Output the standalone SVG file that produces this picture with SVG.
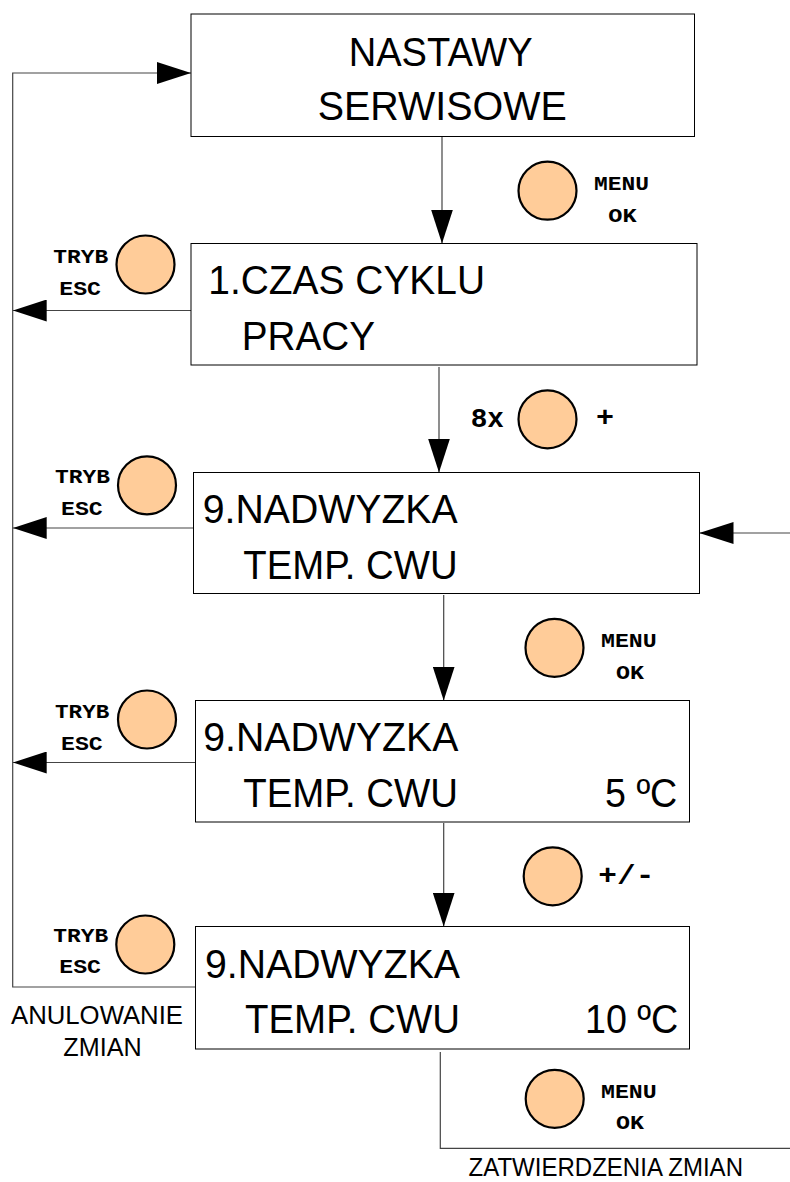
<svg xmlns="http://www.w3.org/2000/svg" width="790" height="1182" viewBox="0 0 790 1182">
<style>
.box{fill:#fff;stroke:#000;stroke-width:1}
.big{font-family:"Liberation Sans",Arial,sans-serif;font-size:40px;fill:#000}
.cap{font-family:"Liberation Sans",Arial,sans-serif;font-size:25px;fill:#000}
.btn{fill:#ffcc99;stroke:#000;stroke-width:2.2}
.key{font-family:"Liberation Mono","Courier New",monospace;font-weight:bold;font-size:21px;fill:#000}
.key2{font-family:"Liberation Mono","Courier New",monospace;font-weight:bold;font-size:27px;fill:#000}
.con{fill:none;stroke:#444;stroke-width:1.2}
</style>
<defs>
<marker id="ah" markerUnits="userSpaceOnUse" markerWidth="34" markerHeight="22" refX="34" refY="11" orient="auto">
<path d="M0,0 L34,11 L0,22 Z" fill="#000"/>
</marker>
</defs>
<rect width="790" height="1182" fill="#fff"/>
<g id="connectors">
<path class="con" d="M195,987 H12.7 V73 H191" marker-end="url(#ah)"/>
<path class="con" d="M191,310.5 H12.7" marker-end="url(#ah)"/>
<path class="con" d="M193.5,528 H12.7" marker-end="url(#ah)"/>
<path class="con" d="M195.5,762.5 H12.7" marker-end="url(#ah)"/>
<path class="con" d="M442,137 V243.5" marker-end="url(#ah)"/>
<path class="con" d="M439,367 V472.5" marker-end="url(#ah)"/>
<path class="con" d="M443.7,595 V700.5" marker-end="url(#ah)"/>
<path class="con" d="M443.7,823 V926.5" marker-end="url(#ah)"/>
<path class="con" d="M790,533 H699.5" marker-end="url(#ah)"/>
<path class="con" d="M440.3,1052 V1148.3 H790"/>
</g>
<g id="box1">
<rect class="box" x="191" y="14" width="503.5" height="122.5"/>
<text class="big" x="348.7" y="65.7" textLength="184" lengthAdjust="spacingAndGlyphs">NASTAWY</text>
<text class="big" x="317.7" y="120" textLength="249" lengthAdjust="spacingAndGlyphs">SERWISOWE</text>
</g>
<g id="box2">
<rect class="box" x="191" y="243.5" width="506" height="121.5"/>
<text class="big" x="208.3" y="294" textLength="276.7" lengthAdjust="spacingAndGlyphs">1.CZAS CYKLU</text>
<text class="big" x="241.7" y="350.3" textLength="133.3" lengthAdjust="spacingAndGlyphs">PRACY</text>
</g>
<g id="box3">
<rect class="box" x="193.5" y="472.5" width="506" height="121"/>
<text class="big" x="202.7" y="523" textLength="255" lengthAdjust="spacingAndGlyphs">9.NADWYZKA</text>
<text class="big" x="243.3" y="579.3" textLength="214.3" lengthAdjust="spacingAndGlyphs">TEMP. CWU</text>
</g>
<g id="box4">
<rect class="box" x="195.5" y="700.5" width="494" height="121.5"/>
<text class="big" x="203.3" y="750.7" textLength="255" lengthAdjust="spacingAndGlyphs">9.NADWYZKA</text>
<text class="big" x="243.3" y="807.3" textLength="214.7" lengthAdjust="spacingAndGlyphs">TEMP. CWU</text>
<text class="big" x="605" y="807.3" textLength="72.3" lengthAdjust="spacingAndGlyphs">5 ºC</text>
</g>
<g id="box5">
<rect class="box" x="195.5" y="926.5" width="494" height="122.5"/>
<text class="big" x="205" y="978.3" textLength="255" lengthAdjust="spacingAndGlyphs">9.NADWYZKA</text>
<text class="big" x="245" y="1033.3" textLength="215" lengthAdjust="spacingAndGlyphs">TEMP. CWU</text>
<text class="big" x="585" y="1033.3" textLength="93.3" lengthAdjust="spacingAndGlyphs">10 ºC</text>
</g>
<g id="btn-menu1">
<circle class="btn" cx="547.5" cy="190.7" r="29"/>
<text class="key" x="594" y="190" textLength="55" lengthAdjust="spacingAndGlyphs">MENU</text>
<text class="key" x="608.3" y="222" textLength="28.4" lengthAdjust="spacingAndGlyphs">OK</text>
</g>
<g id="btn-plus8">
<circle class="btn" cx="547.5" cy="419.3" r="29"/>
<text class="key2" x="470.7" y="426.7" textLength="33.3" lengthAdjust="spacingAndGlyphs">8x</text>
<text class="key2" x="596" y="426" textLength="18" lengthAdjust="spacingAndGlyphs">+</text>
</g>
<g id="btn-esc1">
<circle class="btn" cx="145.5" cy="264.5" r="29"/>
<text class="key" x="53.3" y="262.7" textLength="55" lengthAdjust="spacingAndGlyphs">TRYB</text>
<text class="key" x="59.3" y="295" textLength="41.7" lengthAdjust="spacingAndGlyphs">ESC</text>
</g>
<g id="btn-esc2">
<circle class="btn" cx="147" cy="485.3" r="29"/>
<text class="key" x="55" y="483.3" textLength="55" lengthAdjust="spacingAndGlyphs">TRYB</text>
<text class="key" x="61" y="515" textLength="41.7" lengthAdjust="spacingAndGlyphs">ESC</text>
</g>
<g id="btn-menu2">
<circle class="btn" cx="554.5" cy="647.8" r="29"/>
<text class="key" x="601" y="646.7" textLength="55.7" lengthAdjust="spacingAndGlyphs">MENU</text>
<text class="key" x="616" y="678.7" textLength="28" lengthAdjust="spacingAndGlyphs">OK</text>
</g>
<g id="btn-esc3">
<circle class="btn" cx="147" cy="719.5" r="29"/>
<text class="key" x="55" y="718.3" textLength="54.3" lengthAdjust="spacingAndGlyphs">TRYB</text>
<text class="key" x="61" y="750" textLength="41.7" lengthAdjust="spacingAndGlyphs">ESC</text>
</g>
<g id="btn-plusminus">
<circle class="btn" cx="552.7" cy="876.3" r="29"/>
<text class="key2" x="598.3" y="884" textLength="56" lengthAdjust="spacingAndGlyphs">+/-</text>
</g>
<g id="btn-esc4">
<circle class="btn" cx="145.3" cy="944.5" r="29"/>
<text class="key" x="53.3" y="941.7" textLength="55" lengthAdjust="spacingAndGlyphs">TRYB</text>
<text class="key" x="59.3" y="973.3" textLength="41.7" lengthAdjust="spacingAndGlyphs">ESC</text>
</g>
<g id="btn-menu3">
<circle class="btn" cx="554.7" cy="1098.8" r="29"/>
<text class="key" x="601" y="1097.7" textLength="55.7" lengthAdjust="spacingAndGlyphs">MENU</text>
<text class="key" x="616" y="1129.3" textLength="28" lengthAdjust="spacingAndGlyphs">OK</text>
</g>
<g id="label-cancel">
<text class="cap" x="11" y="1024.3" textLength="172" lengthAdjust="spacingAndGlyphs">ANULOWANIE</text>
<text class="cap" x="63.3" y="1055.7" textLength="78.3" lengthAdjust="spacingAndGlyphs">ZMIAN</text>
</g>
<g id="label-confirm">
<text class="cap" x="468.5" y="1176" textLength="274.5" lengthAdjust="spacingAndGlyphs">ZATWIERDZENIA ZMIAN</text>
</g>
</svg>
